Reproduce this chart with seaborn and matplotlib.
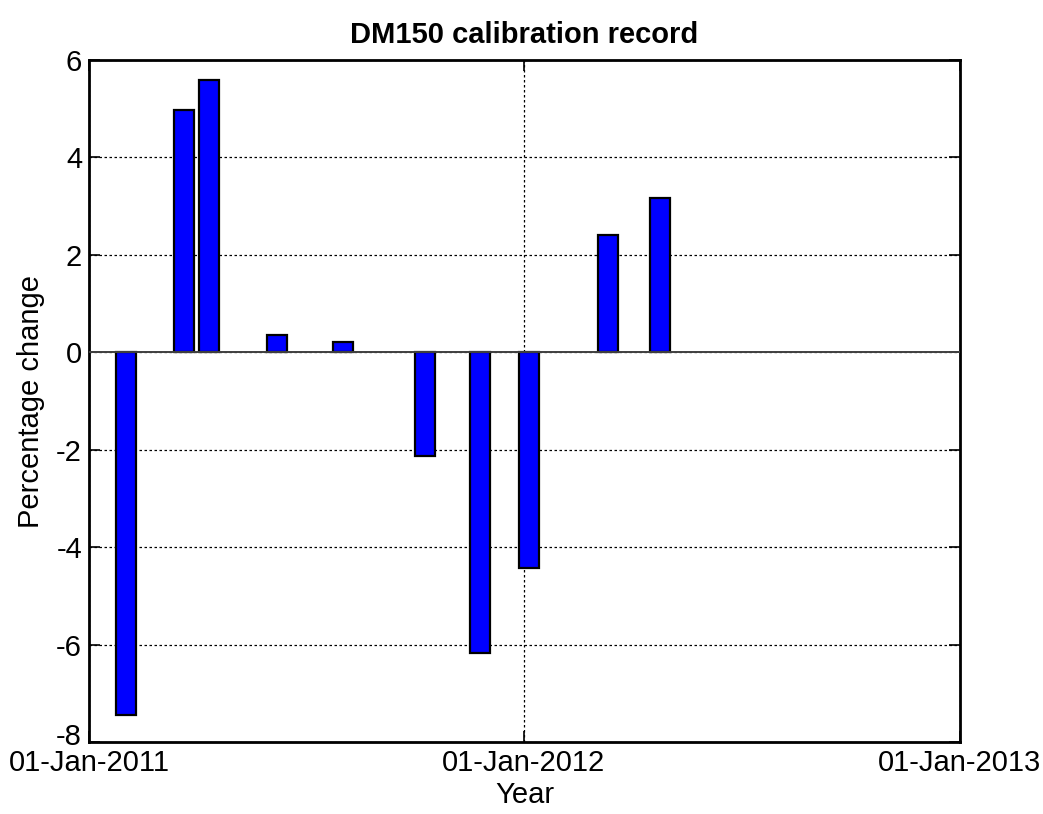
import pandas as pd
import numpy as np
import matplotlib
matplotlib.use("Agg")
import matplotlib.pyplot as plt
import matplotlib.dates as mdates
import matplotlib.transforms as mtransforms
import seaborn as sns

# calibration dates and percentage change
cal_dates = ["2011-02-01", "2011-03-22", "2011-04-12", "2011-06-08", "2011-08-02",
             "2011-10-10", "2011-11-25", "2012-01-05", "2012-03-12", "2012-04-24"]
pct_change = [-7.45, 4.98, 5.59, 0.35, 0.22, -2.12, -6.17, -4.42, 2.40, 3.17]

tick_dates = ["2011-01-01", "2012-01-01", "2013-01-01"]
y_ticks = [-8, -6, -4, -2, 0, 2, 4, 6]


def build_frame(dates, values):
    df = pd.DataFrame({"date": pd.to_datetime(dates), "change": values})
    df["datenum"] = mdates.date2num(df["date"])
    return df


def plot_calibration(df):
    sns.set_style("ticks")
    plt.rcParams["font.family"] = ["Liberation Sans", "DejaVu Sans"]
    plt.rcParams["axes.unicode_minus"] = False
    plt.rcParams["text.color"] = "black"
    plt.rcParams["axes.labelcolor"] = "black"

    fig = plt.figure(figsize=(10.43, 8.14), dpi=100)
    ax = fig.add_axes([0.0853, 0.0885, 0.8351, 0.8377])

    sns.barplot(data=df, x="datenum", y="change", native_scale=True, width=0.8,
                color="#0000ff", saturation=1, edgecolor="black", linewidth=1.6,
                zorder=3, ax=ax)

    xt = mdates.date2num(pd.to_datetime(tick_dates))
    ax.set_xlim(xt[0], xt[-1])
    ax.set_ylim(-8, 6)
    ax.set_xticks(xt)
    ax.set_xticklabels([pd.Timestamp(d).strftime("%d-%b-%Y") for d in tick_dates])
    ax.set_yticks(y_ticks)
    ax.set_yticklabels([str(v) for v in y_ticks])

    ax.grid(True, color="black", linestyle=(0, (2, 2)), linewidth=0.9, zorder=0)
    ax.set_axisbelow(True)
    ax.axhline(0, color="#404040", linewidth=1.4, zorder=4)

    ax.tick_params(direction="in", length=8, width=1.2, labelsize=21, pad=5,
                   top=True, right=True, colors="black")
    for sp in ax.spines.values():
        sp.set_visible(True)
        sp.set_linewidth(2)
        sp.set_color("black")

    # matlab nudges the lowest y label up so it clears the date labels
    low = ax.get_yticklabels()[0]
    low.set_transform(low.get_transform() + mtransforms.ScaledTranslation(0, 6 / 72, fig.dpi_scale_trans))

    ax.set_title("DM150 calibration record", fontsize=21, fontweight="bold", pad=12, color="black")
    ax.set_xlabel("Year", fontsize=21, labelpad=3)
    ax.set_ylabel("Percentage change", fontsize=21, labelpad=8)

    fig.savefig("out.png", dpi=100)


def main():
    df = build_frame(cal_dates, pct_change)
    plot_calibration(df)


if __name__ == "__main__":
    main()
